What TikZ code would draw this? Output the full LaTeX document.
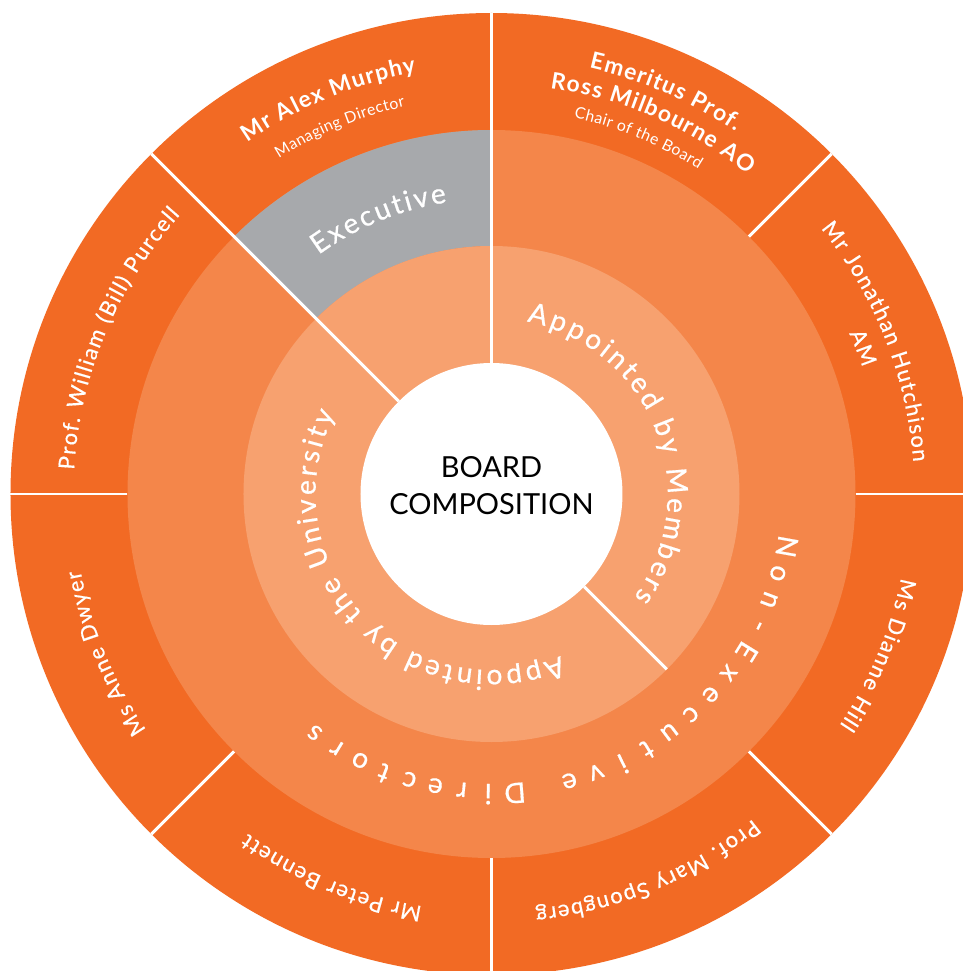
\documentclass[tikz,border=0pt]{standalone}
\usepackage{fontspec}
\setmainfont{Lato}
\newfontfamily\namefont[FakeBold=0.5]{Lato}
\newfontfamily\ringfont[FakeBold=0.6]{Lato}
\usetikzlibrary{decorations.text}

\definecolor{outerorange}{HTML}{F26A24}
\definecolor{midorange}{HTML}{F4864A}
\definecolor{innerorange}{HTML}{F7A16F}
\definecolor{execgray}{HTML}{A7A9AC}

% each character box starts with a small kern, which spreads the letters
\newcommand{\leadname}{\rmfamily\bfseries\fontsize{13}{15}\selectfont\kern0.7pt}
\newcommand{\plainname}{\namefont\fontsize{12.5}{15}\selectfont\kern0.8pt}
\newcommand{\rolename}{\rmfamily\fontsize{9}{11}\selectfont\kern0.25pt}
\newcommand{\ringname}{\ringfont\fontsize{16}{18}\selectfont\kern1.8pt}
\newcommand{\execname}{\ringfont\fontsize{16}{18}\selectfont\kern1.4pt}

% white text on a clockwise arc: centre angle, baseline radius, text
\newcommand{\arclabel}[3]{%
  \path[decorate, decoration={text along path, text color=white,
    text align=center, text={#3}}]
    (#1+170:#2) arc[start angle=#1+170, end angle=#1-170, radius=#2];}

\begin{document}
\begin{tikzpicture}[
  divider/.style={white, line width=1.7pt},
  spread/.style={text=white, anchor=base, inner sep=0pt, font=\ringfont\fontsize{16}{18}\selectfont},
  title/.style={align=center, text=black, font=\fontsize{16.5}{21}\selectfont}
]
\fill[white] (-9.83,-9.54) rectangle (9.41,9.88);
\useasboundingbox (-9.83,-9.54) rectangle (9.41,9.88);

% Rings
\fill[outerorange] (0,0) circle (9.62);
\fill[midorange] (0,0) circle (7.28);
\fill[execgray] (90:7.28) arc[start angle=90, end angle=135, radius=7.28]
  -- (135:4.96) arc[start angle=135, end angle=90, radius=4.96] -- cycle;
\fill[innerorange] (0,0) circle (4.96);
\fill[white] (0,0) circle (2.62);

% Dividers
\foreach \a in {0,45,180,225,270}
  \draw[divider] (\a:7.28) -- (\a:9.62);
\foreach \a in {90,135}
  \draw[divider] (\a:2.62) -- (\a:9.62);
\draw[divider] (-45:2.62) -- (-45:4.96);
\draw[divider] (-45:7.28) -- (-45:9.62);

% Centre
\node[title] (board) at (0,0.16) {BOARD\\COMPOSITION};

% Inner and middle ring
\arclabel{112.5}{5.9}{|\execname|Executive}
\arclabel{21.75}{3.52}{|\ringname|Appointed by Members}
\arclabel{-136.5}{3.52}{|\ringname|Appointed by the University}
\foreach \ch [count=\i from 0] in {N,o,n,-,E,x,e,c,u,t,i,v,e}
  \node[spread, rotate=-100.1-5.39*\i] (ne\i) at ({-10.1-5.39*\i}:5.8) {\ch};
\foreach \ch [count=\i from 0] in {D,i,r,e,c,t,o,r,s}
  \node[spread, rotate=-175.5-5.125*\i] (dir\i) at ({-85.5-5.125*\i}:5.8) {\ch};

% Outer ring: board members
\arclabel{112.5}{8.56}{|\leadname|Mr Alex Murphy}
\arclabel{112.5}{7.94}{|\rolename|Managing Director}
\arclabel{66.6}{8.74}{|\leadname|Emeritus Prof.}
\arclabel{66.6}{8.2}{|\leadname|Ross Milbourne AO}
\arclabel{67.6}{7.7}{|\rolename|Chair of the Board}
\arclabel{21.7}{8.46}{|\plainname|Mr Jonathan Hutchison}
\arclabel{21.6}{7.84}{|\plainname|AM}
\arclabel{-22.5}{8.36}{|\plainname|Ms Dianne Hill}
\arclabel{-67.5}{8.34}{|\plainname|Prof. Mary Spongberg}
\arclabel{-112.5}{8.36}{|\plainname|Mr Peter Bennett}
\arclabel{-157.5}{8.36}{|\plainname|Ms Anne Dwyer}
\arclabel{157.5}{8.36}{|\plainname|Prof. William (Bill) Purcell}

\end{tikzpicture}
\end{document}
